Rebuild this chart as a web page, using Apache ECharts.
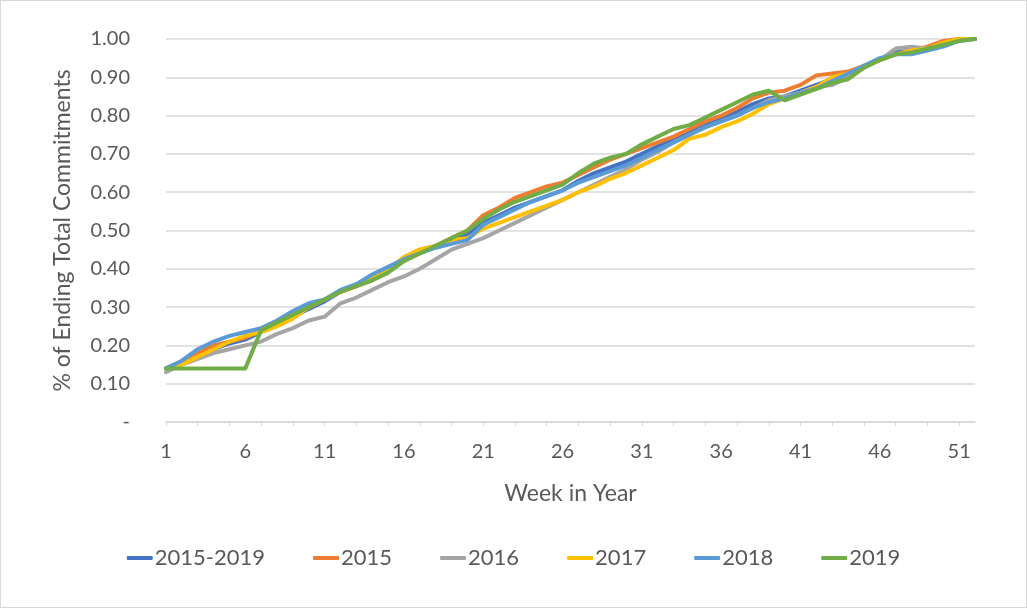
<!DOCTYPE html>
<html>
<head>
<meta charset="utf-8">
<script src="https://cdn.jsdelivr.net/npm/echarts@6/dist/echarts.min.js"></script>
<style>
  html, body { margin: 0; padding: 0; background: #fff; }
  #chart { width: 1027px; height: 608px; box-sizing: border-box; border: 1px solid #d9d9d9; }
</style>
</head>
<body>
<div id="chart"></div>
<script>
// weeks 1..52
var weeks = [];
for (var w = 1; w <= 52; w++) weeks.push(String(w));

var seriesNames = ['2015-2019', '2015', '2016', '2017', '2018', '2019'];
var colors = ['#4472c4', '#ed7d31', '#a5a5a5', '#ffc000', '#5b9bd5', '#70ad47'];

var avg = [0.14, 0.155, 0.175, 0.19, 0.205, 0.215, 0.235, 0.255, 0.275, 0.295,
  0.315, 0.34, 0.355, 0.375, 0.395, 0.425, 0.445, 0.46, 0.475, 0.49,
  0.52, 0.54, 0.56, 0.575, 0.59, 0.605, 0.63, 0.65, 0.665, 0.68,
  0.70, 0.72, 0.74, 0.76, 0.78, 0.795, 0.81, 0.83, 0.845, 0.85,
  0.865, 0.88, 0.895, 0.905, 0.93, 0.945, 0.965, 0.97, 0.975, 0.99, 1.0, 1.0];
var y2015 = [0.14, 0.155, 0.18, 0.20, 0.21, 0.22, 0.24, 0.26, 0.28, 0.30,
  0.32, 0.34, 0.355, 0.37, 0.39, 0.43, 0.45, 0.46, 0.48, 0.50,
  0.54, 0.56, 0.585, 0.60, 0.615, 0.625, 0.645, 0.665, 0.685, 0.70,
  0.715, 0.73, 0.745, 0.765, 0.785, 0.80, 0.82, 0.845, 0.86, 0.865,
  0.88, 0.905, 0.91, 0.915, 0.93, 0.945, 0.96, 0.97, 0.98, 0.995, 1.0, 1.0];
var y2016 = [0.13, 0.15, 0.165, 0.18, 0.19, 0.20, 0.21, 0.23, 0.245, 0.265,
  0.275, 0.31, 0.325, 0.345, 0.365, 0.38, 0.40, 0.425, 0.45, 0.465,
  0.48, 0.50, 0.52, 0.54, 0.56, 0.58, 0.60, 0.62, 0.64, 0.66,
  0.685, 0.705, 0.73, 0.75, 0.77, 0.785, 0.80, 0.82, 0.84, 0.85,
  0.86, 0.875, 0.88, 0.90, 0.925, 0.945, 0.975, 0.98, 0.975, 0.99, 1.0, 1.0];
var y2017 = [0.14, 0.15, 0.17, 0.19, 0.21, 0.225, 0.235, 0.25, 0.27, 0.30,
  0.32, 0.34, 0.355, 0.375, 0.40, 0.43, 0.45, 0.46, 0.475, 0.48,
  0.505, 0.52, 0.535, 0.55, 0.565, 0.58, 0.60, 0.615, 0.635, 0.65,
  0.67, 0.69, 0.71, 0.74, 0.75, 0.77, 0.785, 0.805, 0.83, 0.845,
  0.86, 0.875, 0.90, 0.91, 0.93, 0.945, 0.96, 0.97, 0.975, 0.99, 1.0, 1.0];
var y2018 = [0.14, 0.16, 0.19, 0.21, 0.225, 0.235, 0.245, 0.265, 0.29, 0.31,
  0.32, 0.345, 0.36, 0.385, 0.405, 0.425, 0.44, 0.455, 0.465, 0.475,
  0.515, 0.535, 0.555, 0.575, 0.59, 0.605, 0.625, 0.64, 0.655, 0.67,
  0.69, 0.71, 0.73, 0.75, 0.77, 0.785, 0.80, 0.82, 0.835, 0.845,
  0.86, 0.87, 0.89, 0.91, 0.93, 0.95, 0.96, 0.96, 0.97, 0.98, 0.995, 1.0];
var y2019 = [0.14, 0.14, 0.14, 0.14, 0.14, 0.14, 0.24, 0.26, 0.28, 0.30,
  0.32, 0.34, 0.355, 0.37, 0.39, 0.42, 0.44, 0.46, 0.48, 0.50,
  0.53, 0.555, 0.575, 0.59, 0.605, 0.62, 0.65, 0.675, 0.69, 0.70,
  0.725, 0.745, 0.765, 0.775, 0.795, 0.815, 0.835, 0.855, 0.865, 0.84,
  0.855, 0.87, 0.885, 0.895, 0.925, 0.945, 0.96, 0.965, 0.975, 0.985, 0.995, 1.0];

var allData = [avg, y2015, y2016, y2017, y2018, y2019];

var font = 'Lato, "Open Sans", sans-serif';
var textColor = '#595959';

var chart = echarts.init(document.getElementById('chart'));

var series = seriesNames.map(function (name, i) {
  return {
    name: name,
    type: 'line',
    data: allData[i],
    symbol: 'none',
    lineStyle: { width: 4, color: colors[i], join: 'round', cap: 'round' },
    itemStyle: { color: colors[i] }
  };
});

chart.setOption({
  animation: false,
  grid: { left: 165, right: 51, top: 38, bottom: 185, containLabel: false },
  xAxis: {
    type: 'category',
    data: weeks,
    boundaryGap: false,
    name: 'Week in Year',
    nameLocation: 'middle',
    nameGap: 60,
    nameTextStyle: { fontFamily: font, fontSize: 23, color: textColor },
    axisLine: { lineStyle: { color: '#d9d9d9', width: 1.5 } },
    axisTick: { show: true, interval: 1, length: 4, lineStyle: { color: '#d9d9d9' } },
    axisLabel: {
      interval: 4,
      margin: 20,
      fontFamily: font, fontSize: 20, color: textColor
    },
    splitLine: { show: false }
  },
  yAxis: {
    type: 'value',
    min: 0,
    max: 1,
    interval: 0.1,
    name: '% of Ending Total Commitments',
    nameLocation: 'middle',
    nameGap: 92,
    nameTextStyle: { fontFamily: font, fontSize: 23, color: textColor },
    axisLine: { show: false },
    axisTick: { show: false },
    axisLabel: {
      margin: 36,
      fontFamily: font, fontSize: 20, color: textColor,
      formatter: function (v) { return v === 0 ? '-' : v.toFixed(2); }
    },
    splitLine: { lineStyle: { color: '#d9d9d9', width: 1.5 } }
  },
  legend: {
    bottom: 33,
    left: 'center',
    itemWidth: 26,
    itemHeight: 4,
    itemGap: 48,
    icon: 'roundRect',
    data: seriesNames,
    textStyle: { fontFamily: font, fontSize: 22, color: textColor, padding: [0, 0, 0, -3] }
  },
  series: series
});
</script>
</body>
</html>
